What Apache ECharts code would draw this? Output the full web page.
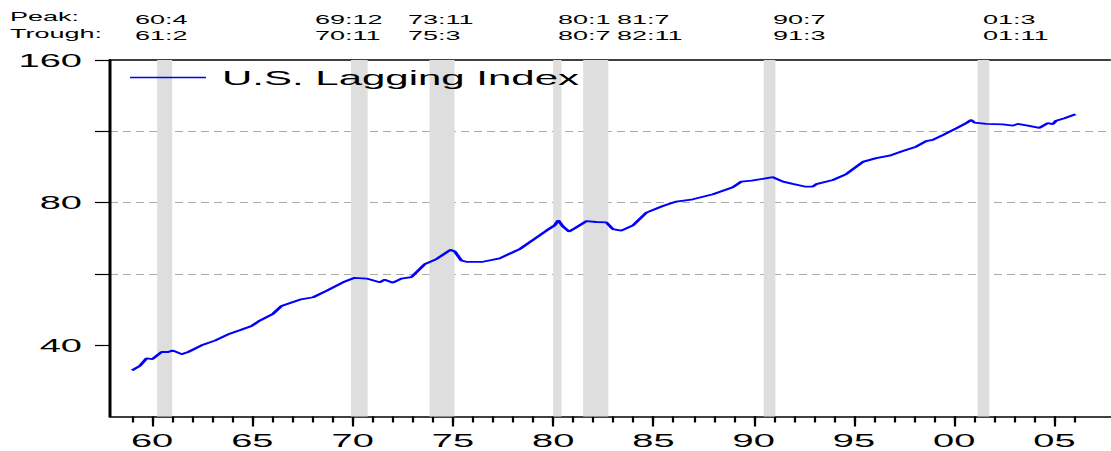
<!DOCTYPE html>
<html><head><meta charset="utf-8">
<style>
html,body{margin:0;padding:0;background:#fff;overflow:hidden;width:1111px;height:451px;}
#c{width:555.5px;height:451px;transform:scaleX(2);transform-origin:0 0;}
</style>
<script src="https://cdn.jsdelivr.net/npm/echarts@6/dist/echarts.min.js"></script>
</head><body><div id="c"></div>
<script>
const seriesName = 'U.S. Lagging Index';
const years = [1959.0,1959.4,1959.72,1960.02,1960.47,1960.8,1961.02,1961.47,1961.8,1962.54,1963.13,1963.87,1964.37,1964.96,1965.37,1966.03,1966.45,1967.36,1968.03,1968.69,1969.52,1970.1,1970.69,1971.35,1971.6,1972.01,1972.43,1972.93,1973.6,1974.18,1974.88,1975.09,1975.42,1975.67,1976.5,1977.33,1977.83,1978.33,1978.99,1979.66,1980.07,1980.26,1980.49,1980.79,1981.07,1981.66,1982.16,1982.65,1982.98,1983.4,1983.98,1984.65,1985.47,1986.14,1986.97,1987.97,1988.96,1989.38,1989.9,1990.96,1991.46,1991.95,1992.54,1992.95,1993.12,1993.95,1994.62,1995.44,1996.11,1996.77,1997.44,1998.1,1998.6,1998.93,1999.43,2000.1,2000.6,2000.85,2001.01,2001.6,2002.42,2002.92,2003.17,2003.67,2004.25,2004.67,2004.92,2005.08,2005.5,2006.05];
const lagging = [35.4,36.2,37.5,37.4,38.7,38.7,39.0,38.3,38.7,40.1,40.9,42.3,43.0,43.9,45.1,46.6,48.4,49.9,50.5,52.1,54.3,55.5,55.3,54.3,55.0,54.2,55.3,55.7,59.3,60.8,63.6,63.1,60.4,60.0,60.0,61.0,62.4,63.8,66.7,69.8,71.6,73.4,71.2,69.5,70.6,73.1,72.8,72.7,70.3,69.8,71.6,76.2,78.7,80.4,81.3,83.3,86.2,88.6,89.0,90.5,88.6,87.6,86.5,86.5,87.5,89.3,91.9,97.5,99.3,100.5,102.8,105.0,107.9,108.5,111.1,114.8,117.7,119.6,118.0,117.3,117.0,116.3,117.3,116.3,115.0,117.7,117.2,119.1,120.5,122.9];
const peaks = ['60:4','69:12','73:11','80:1','81:7','90:7','01:3'];
const troughs = ['61:2','70:11','75:3','80:7','82:11','91:3','01:11'];
const xMajorYears = [1960,1965,1970,1975,1980,1985,1990,1995,2000,2005];
const xTickLabels = ['60','65','70','75','80','85','90','95','00','05'];
const xMinorYears = [];
for (let y = 1959; y <= 2006; y++) xMinorYears.push(y);
const yTicks = [20*Math.SQRT2, 40, 40*Math.SQRT2, 80, 80*Math.SQRT2, 160];
const yTickLabels = [40, 80, 160];

const FONT = "'Liberation Sans', Arial, Helvetica, sans-serif";
function ym(s){ const p = s.split(':'); let yy = +p[0]; yy += yy < 50 ? 2000 : 1900; return yy + (+p[1]-1)/12; }
const recessions = peaks.map((p,i)=>[{xAxis: ym(p)}, {xAxis: ym(troughs[i]) - 1/12}]);

const peakX = [67.5,157.5,204,279,308.5,386.5,491.5];
const graphics = [
  {type:'text', x:5, y:16.7, style:{text:'Peak:', font:'13.5px '+FONT, fill:'#000', verticalAlign:'middle'}},
  {type:'text', x:5, y:33.8, style:{text:'Trough:', font:'13.5px '+FONT, fill:'#000', verticalAlign:'middle'}}
];
peaks.forEach((p,i)=>{
  graphics.push({type:'text', x:peakX[i], y:19.3, style:{text:p, font:'13.5px '+FONT, fill:'#000', verticalAlign:'middle'}});
  graphics.push({type:'text', x:peakX[i], y:35.5, style:{text:troughs[i], font:'13.5px '+FONT, fill:'#000', verticalAlign:'middle'}});
});

const chart = echarts.init(document.getElementById('c'), null, {renderer:'svg', width:555.5, height:451});
const xMin = 1957.9, xMax = 2007.77;
chart.setOption({
  backgroundColor:'#fff',
  animation:false,
  textStyle:{fontFamily:FONT},
  grid:{left:55, right:0.5, top:60, bottom:34.5, containLabel:false},
  legend:{
    data:[seriesName], left:65, top:67, padding:0, itemWidth:38, itemHeight:1.6, itemGap:0, icon:'rect',
    itemStyle:{color:'#0000ff'},
    textStyle:{fontSize:21, color:'#000', fontFamily:FONT, padding:[0,0,0,3]}
  },
  graphic:graphics,
  xAxis:[
    {type:'value', min:xMin, max:xMax, position:'bottom',
     axisLine:{show:true, onZero:false, lineStyle:{color:'#000', width:1.6}},
     axisTick:{show:true, customValues:xMajorYears, length:10, inside:false, lineStyle:{color:'#000', width:1.1}},
     axisLabel:{show:true, customValues:xMajorYears, margin:14, fontSize:19, color:'#000', fontFamily:FONT,
       formatter:(v)=>{ const i = xMajorYears.indexOf(Math.round(v)); return i>=0 ? xTickLabels[i] : ''; }},
     splitLine:{show:false}},
    {type:'value', min:xMin, max:xMax, position:'bottom',
     axisLine:{show:false, onZero:false},
     axisTick:{show:true, customValues:xMinorYears, length:6, lineStyle:{color:'#000', width:1.1}},
     axisLabel:{show:false}, splitLine:{show:false}},
    {type:'value', min:xMin, max:xMax, position:'top',
     axisLine:{show:true, onZero:false, lineStyle:{color:'#000', width:1.5}},
     axisTick:{show:false}, axisLabel:{show:false}, splitLine:{show:false}}
  ],
  yAxis:{
    type:'log', logBase:2, min:20*Math.SQRT2, max:160,
    axisLine:{show:true, onZero:false, lineStyle:{color:'#000', width:1.5}},
    axisTick:{show:true, customValues:yTicks, length:7.5, lineStyle:{color:'#000', width:1.2}},
    axisLabel:{show:true, customValues:yTickLabels, margin:14, fontSize:19, color:'#000', fontFamily:FONT,
      padding:[0,0,7,0], formatter:(v)=>String(Math.round(v))},
    splitLine:{show:true, showMinLine:false, showMaxLine:false, lineStyle:{color:'#aaaaaa', width:1, type:[4,2.5]}}
  },
  series:[{
    name:seriesName, type:'line', xAxisIndex:0, symbol:'none', smooth:false,
    lineStyle:{color:'#0000ff', width:1.8}, itemStyle:{color:'#0000ff'},
    data: years.map((y,i)=>[y, lagging[i]]),
    markArea:{silent:true, itemStyle:{color:'#dedede'}, data:recessions},
    z:3
  }]
});
</script></body></html>
